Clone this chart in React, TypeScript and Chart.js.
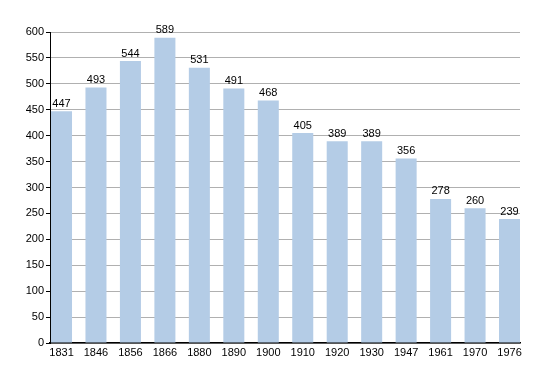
import React, { useEffect, useRef } from "react";
import { Chart, registerables } from "chart.js";

Chart.register(...registerables);

const years = ["1831", "1846", "1856", "1866", "1880", "1890", "1900", "1910", "1920", "1930", "1947", "1961", "1970", "1976"];
const population = [447, 493, 544, 589, 531, 491, 468, 405, 389, 389, 356, 278, 260, 239];

const FONT = "'Liberation Sans', Arial, sans-serif";

const valueLabels = {
  id: "valueLabels",
  afterDatasetsDraw(chart: any) {
    const ctx = chart.ctx;
    const meta = chart.getDatasetMeta(0);
    ctx.save();
    ctx.font = `11px ${FONT}`;
    ctx.fillStyle = "#000";
    ctx.textAlign = "center";
    ctx.textBaseline = "bottom";
    meta.data.forEach((bar: any, i: number) => {
      ctx.fillText(String(population[i]), bar.x, bar.y - 2);
    });
    ctx.restore();
  },
};

export default function App() {
  const ref = useRef<HTMLCanvasElement>(null);
  useEffect(() => {
    document.body.style.margin = "0";
    const chart = new Chart(ref.current!, {
      type: "bar",
      data: {
        datasets: [
          {
            data: population.map((y, i) => ({ x: i, y })),
            backgroundColor: "#b4cce6",
            borderWidth: 0,
            categoryPercentage: 0.61,
            barPercentage: 1,
          },
        ],
      },
      plugins: [valueLabels],
      options: {
        animation: false,
        responsive: false,
        layout: { padding: { top: 32, right: 30, left: 0, bottom: 0 } },
        plugins: { legend: { display: false }, tooltip: { enabled: false } },
        scales: {
          x: {
            type: "linear",
            min: -0.334,
            max: 13.304,
            offset: false,
            grid: { display: false, drawTicks: false },
            border: { display: true, color: "#000", width: 1.5 },
            ticks: {
              stepSize: 1,
              includeBounds: false,
              autoSkip: false,
              color: "#000",
              font: { family: FONT, size: 11 },
              padding: 3,
              maxRotation: 0,
              callback: (v: any) => (Number.isInteger(v) ? years[v] ?? "" : ""),
            },
            afterFit: (s: any) => { s.height = 30; },
          },
          y: {
            min: 0,
            max: 600,
            grid: {
              color: (c: any) => (c.tick && c.tick.value % 50 === 0 ? "#b0b0b0" : "#e4e4e4"),
              tickColor: "#000",
              tickLength: 4,
            },
            border: { display: true, color: "#000", width: 1 },
            ticks: {
              stepSize: 25,
              color: "#000",
              font: { family: FONT, size: 11 },
              padding: 2,
              callback: (v: any) => (v % 50 === 0 ? String(v) : ""),
            },
            afterFit: (s: any) => { s.width = 50; },
          },
        },
      },
    });
    return () => chart.destroy();
  }, []);
  return (
    <div style={{ width: 550, height: 373 }}>
      <canvas ref={ref} width={550} height={373} style={{ display: "block" }} />
    </div>
  );
}
